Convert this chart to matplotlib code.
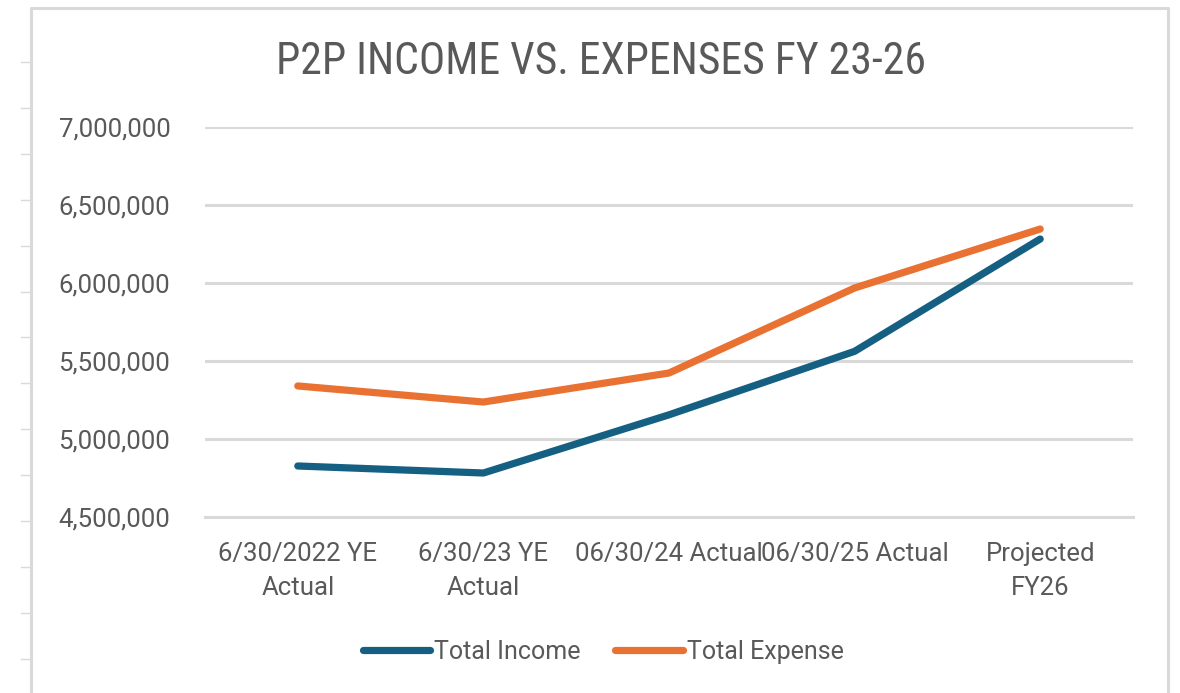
import numpy as np
import matplotlib.pyplot as plt
from matplotlib.lines import Line2D
from matplotlib.ticker import FuncFormatter

# data
categories = ['6/30/2022 YE\nActual', '6/30/23 YE\nActual', '06/30/24 Actual',
              '06/30/25 Actual', 'Projected\nFY26']
total_income = [4827000, 4782000, 5155000, 5562000, 6282000]
total_expense = [5340000, 5237000, 5423000, 5968000, 6346000]
y_ticks = [4500000, 5000000, 5500000, 6000000, 6500000, 7000000]

blue = '#156082'
orange = '#E97132'
grey_txt = '#595959'
grid_c = '#D9D9D9'

plt.rcParams['font.family'] = ['Roboto', 'DejaVu Sans']

W, H = 1180, 693
fig = plt.figure(figsize=(W / 100, H / 100), dpi=100)

ax = fig.add_axes([205 / W, 1 - 517 / H, 928 / W, 390 / H])
x = np.arange(len(categories))
ax.plot(x, total_income, color=blue, lw=5.2, solid_capstyle='round',
        solid_joinstyle='round', label='Total Income')
ax.plot(x, total_expense, color=orange, lw=5.2, solid_capstyle='round',
        solid_joinstyle='round', label='Total Expense')

ax.set_xlim(-0.5, len(categories) - 0.5)
ax.set_ylim(y_ticks[0], y_ticks[-1])
ax.set_yticks(y_ticks)
ax.yaxis.set_major_formatter(FuncFormatter(lambda v, p: f'{int(v):,}'))
ax.set_xticks(x)
ax.set_xticklabels(categories, linespacing=1.55)
ax.grid(axis='y', color=grid_c, lw=2.2)
ax.set_axisbelow(True)
for s in ['top', 'right', 'left']:
    ax.spines[s].set_visible(False)
ax.spines['bottom'].set_color(grid_c)
ax.spines['bottom'].set_linewidth(2.2)
ax.tick_params(axis='y', length=0, pad=25, labelsize=18.5, labelcolor=grey_txt)
ax.tick_params(axis='x', length=0, pad=18, labelsize=18.5, labelcolor=grey_txt)

fig.text(601 / W, 1 - 62 / H, 'P2P INCOME VS. EXPENSES FY 23-26',
         ha='center', va='center', fontsize=31.5, color=grey_txt,
         family=['Liberation Sans Narrow', 'Roboto Condensed', 'Roboto'])

fig.legend(loc='center', bbox_to_anchor=(603 / W, 1 - 652 / H), ncol=2,
           frameon=False, fontsize=18, labelcolor=grey_txt,
           handlelength=2.7, handletextpad=0.15, columnspacing=1.4)

# chart area border and spreadsheet row marks
def fig_line(xs, ys, **kw):
    fig.add_artist(Line2D([v / W for v in xs], [1 - v / H for v in ys],
                          transform=fig.transFigure, **kw))

fig_line([31, 31, 1168, 1168], [693, 8, 8, 693], color='#D9D9D9', lw=2.2)
for k in range(14):
    yy = 62 + 45.9 * k
    if yy < H:
        fig_line([21, 31], [yy, yy], color='#D9D9D9', lw=1)

fig.savefig('out.png', dpi=100)
